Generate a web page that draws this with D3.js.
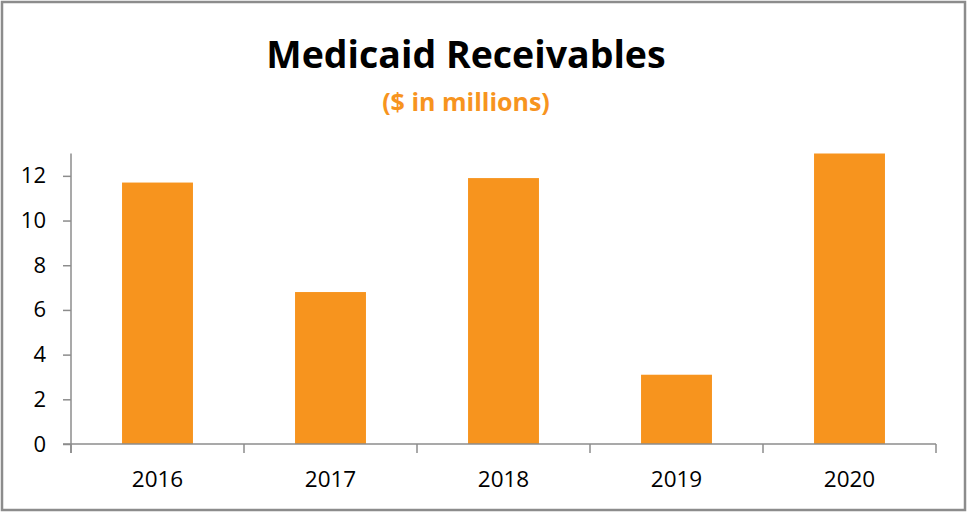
<!DOCTYPE html>
<html lang="en">
<head>
<meta charset="utf-8">
<title>Medicaid Receivables</title>
<script src="https://d3js.org/d3.v7.min.js"></script>
<style>
  body { margin: 0; background: #fff; }
  text { font-family: "Open Sans", "Liberation Sans", sans-serif; }
</style>
</head>
<body>
<script>
// data
var years = ["2016", "2017", "2018", "2019", "2020"];
var receivables = [11.7, 6.8, 11.9, 3.1, 13.0];
var yTicks = [0, 2, 4, 6, 8, 10, 12];

var w = 967, h = 512;
var plotLeft = 71, plotRight = 936, plotTop = 153.5, plotBottom = 444;
var orange = "#F7941E", grey = "#8c8c8c";

var svg = d3.select("body").append("svg")
    .attr("width", w)
    .attr("height", h);

// outer frame
svg.append("rect")
    .attr("x", 2).attr("y", 2)
    .attr("width", 963).attr("height", 508)
    .attr("fill", "#fff")
    .attr("stroke", grey)
    .attr("stroke-width", 2.5);

var x = d3.scaleBand()
    .domain(years)
    .range([plotLeft, plotRight])
    .paddingInner(0.59)
    .paddingOuter(0.295);

var y = d3.scaleLinear()
    .domain([0, 13])
    .range([plotBottom, plotTop]);

// bars
svg.append("g")
    .selectAll("rect")
    .data(years)
    .join("rect")
    .attr("x", d => x(d))
    .attr("width", x.bandwidth())
    .attr("y", (d, i) => y(receivables[i]))
    .attr("height", (d, i) => y(0) - y(receivables[i]))
    .attr("fill", orange);

// y axis
var yAxis = svg.append("g")
    .attr("transform", `translate(${plotLeft},0)`)
    .call(d3.axisLeft(y).tickValues(yTicks).tickSize(8).tickSizeOuter(0).tickPadding(17));
yAxis.select(".domain").remove();
yAxis.selectAll("line").attr("stroke", grey).attr("stroke-width", 1.5);
yAxis.selectAll("text")
    .attr("font-size", 22)
    .attr("fill", "#000")
    .attr("font-family", "'Open Sans', sans-serif");

svg.append("line")
    .attr("x1", plotLeft).attr("x2", plotLeft)
    .attr("y1", y(13)).attr("y2", plotBottom + 9)
    .attr("stroke", grey).attr("stroke-width", 1.5);

// x axis line and category boundary ticks
svg.append("line")
    .attr("x1", plotLeft - 8).attr("x2", plotRight)
    .attr("y1", plotBottom).attr("y2", plotBottom)
    .attr("stroke", grey).attr("stroke-width", 1.5);

var bounds = years.map(d => x(d) - x.step() * x.paddingInner() / 2);
bounds.push(plotRight);
svg.append("g")
    .selectAll("line")
    .data(bounds)
    .join("line")
    .attr("x1", d => d).attr("x2", d => d)
    .attr("y1", plotBottom).attr("y2", plotBottom + 9)
    .attr("stroke", grey).attr("stroke-width", 1.5);

svg.append("g")
    .selectAll("text")
    .data(years)
    .join("text")
    .attr("x", d => x(d) + x.bandwidth() / 2)
    .attr("y", 487)
    .attr("text-anchor", "middle")
    .attr("font-size", 22.5)
    .text(d => d);

// titles
svg.append("text")
    .attr("x", 466).attr("y", 68)
    .attr("text-anchor", "middle")
    .attr("font-size", 37.5)
    .attr("font-weight", "bold")
    .text("Medicaid Receivables");

svg.append("text")
    .attr("x", 466).attr("y", 111)
    .attr("text-anchor", "middle")
    .attr("font-size", 25)
    .attr("font-weight", "bold")
    .attr("fill", orange)
    .text("($ in millions)");
</script>
</body>
</html>
